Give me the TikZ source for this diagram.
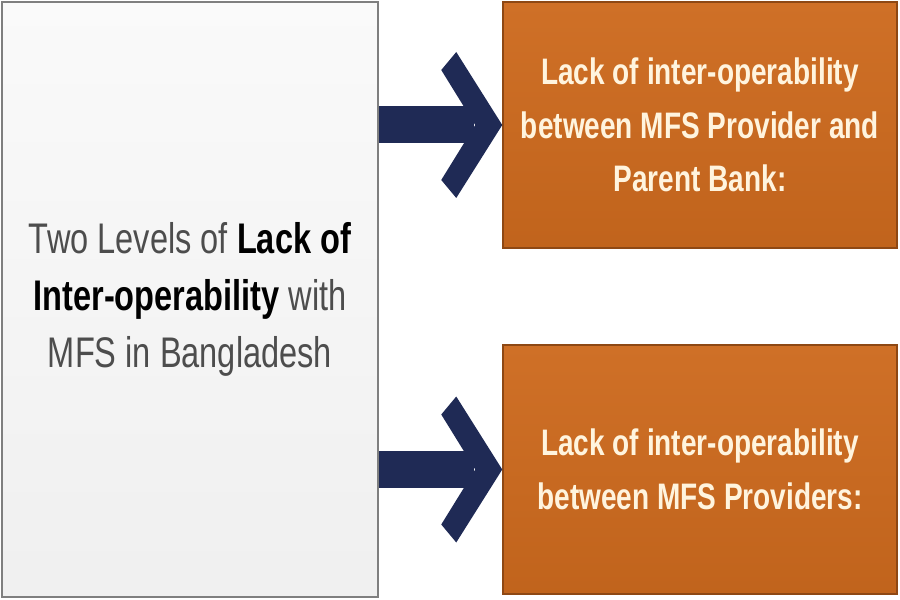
\documentclass[tikz,border=0pt]{standalone}
\usepackage{fontspec}
\newfontfamily\narrowsans[FakeStretch=0.76]{Liberation Sans}
\usetikzlibrary{positioning,calc}
\definecolor{boxgray}{HTML}{7F7F7F}
\definecolor{textgray}{HTML}{4D4D4D}
\definecolor{mfsorange}{HTML}{CD6A1E}
\definecolor{mfsedge}{HTML}{8E4814}
\definecolor{cream}{HTML}{FFF4DE}
\definecolor{navy}{HTML}{1F2A55}

\begin{document}
\begin{tikzpicture}[x=1bp, y=-1bp,
    levelbox/.style={draw=boxgray, line width=2bp, top color=black!2, bottom color=black!6,
        minimum width=376bp, minimum height=595bp, inner sep=0pt,
        align=center, font=\narrowsans\fontsize{43}{57}\selectfont},
    issuebox/.style={draw=mfsedge, line width=1.5bp, top color=mfsorange!96!white,
        bottom color=mfsorange!94!black, minimum width=394bp, minimum height=246bp,
        inner sep=0pt, align=center, text=cream,
        font=\narrowsans\bfseries\fontsize{37}{54}\selectfont},
    shaft/.style={draw=navy, line width=37bp},
    chevron/.style={fill=navy}
    ]
    \useasboundingbox (0,0) rectangle (900,600);

    % left box
    \node[levelbox] (levels) at (190,299.5)
        {\textcolor{textgray}{Two Levels of} \textbf{Lack of}\\
         \textbf{Inter-operability} \textcolor{textgray}{with}\\
         \textcolor{textgray}{MFS in Bangladesh}};

    % right boxes
    \node[issuebox] (pbank) at (700,125)
        {Lack of inter-operability\\between MFS Provider and\\Parent Bank:};
    \node[issuebox, minimum height=249bp] (providers) at (700,469.5)
        {Lack of inter-operability\\between MFS Providers:};

    % arrows
    \foreach \target in {pbank, providers} {
        \draw[shaft] (levels.east |- \target.west) -- ($(\target.west)+(-28,0)$);
        \fill[chevron] ($(\target.west)+(-46,-73)$) -- (\target.west)
            -- ($(\target.west)+(-46,73)$) -- ($(\target.west)+(-61,55)$)
            -- ($(\target.west)+(-27,0)$) -- ($(\target.west)+(-61,-55)$) -- cycle;
    }
\end{tikzpicture}
\end{document}
